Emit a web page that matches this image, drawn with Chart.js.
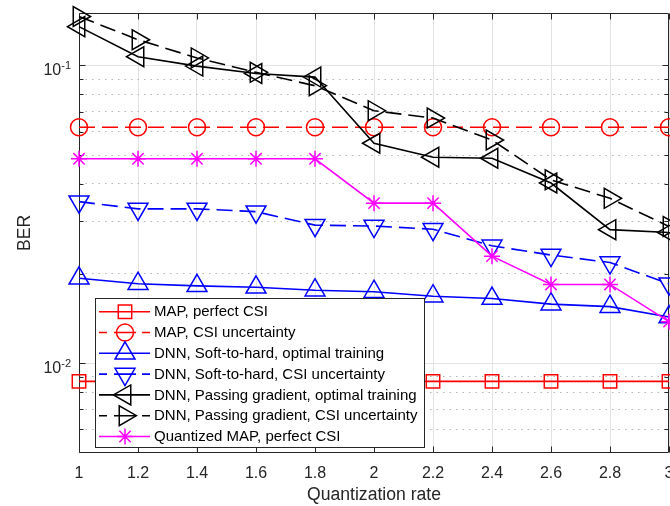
<!DOCTYPE html>
<html><head><meta charset="utf-8">
<script src="https://cdn.jsdelivr.net/npm/chart.js@4/dist/chart.umd.min.js"></script>
<style>html,body{margin:0;padding:0;background:#fff;}#wrap{width:670px;height:506px;position:relative;}</style>
</head><body><div id="wrap"><canvas id="c" width="670" height="506"></canvas></div>
<script>
// ---- data ----
const quantRates = [1, 1.2, 1.4, 1.6, 1.8, 2, 2.2, 2.4, 2.6, 2.8, 3];
const xTickLabels = ['1', '1.2', '1.4', '1.6', '1.8', '2', '2.2', '2.4', '2.6', '2.8', '3'];
const mapPerfectCSI = [0.0087, 0.0087, 0.0087, 0.0087, 0.0087, 0.0087, 0.0087, 0.0087, 0.0087, 0.0087, 0.0087];
const mapCSIUncertainty = [0.062, 0.062, 0.062, 0.062, 0.062, 0.062, 0.062, 0.062, 0.062, 0.062, 0.062];
const dnnSoftOptimal = [0.0193, 0.0185, 0.0182, 0.0180, 0.0176, 0.0174, 0.0168, 0.0165, 0.0158, 0.0155, 0.0143];
const dnnSoftCSIUnc = [0.0349, 0.0330, 0.0330, 0.0323, 0.0291, 0.0289, 0.0282, 0.0248, 0.0231, 0.0218, 0.0185];
const dnnPassOptimal = [0.135, 0.107, 0.0995, 0.094, 0.0914, 0.0548, 0.0492, 0.0488, 0.0403, 0.0281, 0.0275];
const dnnPassCSIUnc = [0.146, 0.122, 0.106, 0.0948, 0.0855, 0.0705, 0.0666, 0.0562, 0.0413, 0.0358, 0.0288];
const quantizedMAP = [0.0486, 0.0486, 0.0486, 0.0486, 0.0486, 0.0345, 0.0345, 0.0229, 0.0184, 0.0184, 0.0138];
const seriesNames = [
  'MAP, perfect CSI',
  'MAP, CSI uncertainty',
  'DNN, Soft-to-hard, optimal training',
  'DNN, Soft-to-hard, CSI uncertainty',
  'DNN, Passing gradient, optimal training',
  'DNN, Passing gradient, CSI uncertainty',
  'Quantized MAP, perfect CSI'
];
const yGridValues = [0.006, 0.007, 0.008, 0.009, 0.01, 0.02, 0.03, 0.04, 0.05, 0.06, 0.07, 0.08, 0.09, 0.1];
const yMajorValues = [0.01, 0.1];
const yMajorLabelBase = ['10', '10'];
const yMajorLabelExp = ['-2', '-1'];
const xTitle = 'Quantization rate';
const yTitle = 'BER';

// ---- styles ----
const FONT = '"Liberation Sans", Arial, Helvetica, sans-serif';
const TXT = '#262626';
const DASH = [16, 7];
const seriesData = [mapPerfectCSI, mapCSIUncertainty, dnnSoftOptimal, dnnSoftCSIUnc, dnnPassOptimal, dnnPassCSIUnc, quantizedMAP];
const seriesStyle = [
  {color: '#ff0000', dash: [], style: 'rect', radius: 9.5, rot: 0},
  {color: '#ff0000', dash: DASH, style: 'circle', radius: 8.5, rot: 0},
  {color: '#0000ff', dash: [], style: 'triangle', radius: 11.5, rot: 0},
  {color: '#0000ff', dash: DASH, style: 'triangle', radius: 11.5, rot: 180},
  {color: '#000000', dash: [], style: 'triangle', radius: 11.5, rot: -90},
  {color: '#000000', dash: DASH, style: 'triangle', radius: 11.5, rot: 90},
  {color: '#ff00ff', dash: [], style: 'star', radius: 8, rot: 0}
];
const isMajorY = v => yMajorValues.some(m => Math.abs(m - v) < 1e-12);

const datasets = seriesData.map((arr, i) => {
  const s = seriesStyle[i];
  return {
    label: seriesNames[i],
    data: arr.map((v, j) => ({x: quantRates[j], y: v})),
    borderColor: s.color,
    borderWidth: 1.6,
    borderDash: s.dash,
    pointStyle: s.style,
    pointRadius: s.radius,
    pointRotation: s.rot,
    pointBorderColor: s.color,
    pointBackgroundColor: 'rgba(0,0,0,0)',
    pointBorderWidth: 1.5,
    pointHoverRadius: s.radius,
    fill: false,
    tension: 0,
    clip: false,
    order: seriesData.length - 1 - i
  };
});

function drawMarker(ctx, s, x, y) {
  ctx.save();
  ctx.setLineDash([]);
  ctx.strokeStyle = s.color;
  ctx.fillStyle = 'rgba(0,0,0,0)';
  ctx.lineWidth = 1.5;
  Chart.helpers.drawPoint(ctx, {pointStyle: s.style, radius: s.radius, rotation: s.rot, borderWidth: 1.5}, x, y);
  ctx.restore();
}

const axesPlugin = {
  id: 'axesBox',
  beforeDatasetsDraw(chart) {
    const {ctx, chartArea: a, scales} = chart;
    const ys = scales.y, xs = scales.x;
    ctx.save();
    ctx.strokeStyle = TXT;
    ctx.lineWidth = 1;
    ctx.setLineDash([]);
    const L = Math.round(a.left) + 0.5, R = Math.round(a.right) - 0.5, T = Math.round(a.top) + 0.5, B = Math.round(a.bottom) - 0.5;
    ctx.beginPath();
    ctx.rect(L, T, R - L, B - T);
    ctx.stroke();
    // x ticks (bottom and top, inward)
    ctx.beginPath();
    quantRates.forEach(v => {
      const px = Math.round(xs.getPixelForValue(v)) + 0.5;
      ctx.moveTo(px, B); ctx.lineTo(px, B - 6);
      ctx.moveTo(px, T); ctx.lineTo(px, T + 6);
    });
    // y ticks (left and right)
    yGridValues.forEach(v => {
      const py = Math.round(ys.getPixelForValue(v)) + 0.5;
      const len = isMajorY(v) ? 6 : 4;
      ctx.moveTo(L, py); ctx.lineTo(L + len, py);
      ctx.moveTo(R, py); ctx.lineTo(R - len, py);
    });
    ctx.stroke();
    // y tick labels with superscript exponents
    ctx.fillStyle = TXT;
    ctx.textBaseline = 'alphabetic';
    yMajorValues.forEach((v, i) => {
      const py = ys.getPixelForValue(v);
      const right = a.left - 8;
      ctx.font = '11px ' + FONT;
      const ew = ctx.measureText(yMajorLabelExp[i]).width;
      ctx.textAlign = 'left';
      ctx.fillText(yMajorLabelExp[i], right - ew, py + 3.3);
      ctx.font = '16px ' + FONT;
      ctx.textAlign = 'right';
      ctx.fillText(yMajorLabelBase[i], right - ew, py + 9.5);
    });
    ctx.restore();
  },
  afterDraw(chart) {
    const {ctx} = chart;
    // legend box
    const bx = 95.5, by = 298.5, bw = 329, bh = 149;
    ctx.save();
    ctx.fillStyle = '#ffffff';
    ctx.strokeStyle = TXT;
    ctx.lineWidth = 1;
    ctx.fillRect(bx, by, bw, bh);
    ctx.strokeRect(bx, by, bw, bh);
    seriesNames.forEach((name, i) => {
      const s = seriesStyle[i];
      const cy = 311.7 + i * 20.8;
      ctx.save();
      ctx.strokeStyle = s.color;
      ctx.lineWidth = 1.6;
      if (s.dash.length) {
        ctx.beginPath();
        ctx.moveTo(99, cy); ctx.lineTo(107, cy);
        ctx.moveTo(114, cy); ctx.lineTo(136, cy);
        ctx.moveTo(142, cy); ctx.lineTo(150, cy);
        ctx.stroke();
      } else {
        ctx.beginPath(); ctx.moveTo(99, cy); ctx.lineTo(150, cy); ctx.stroke();
      }
      ctx.restore();
      drawMarker(ctx, s, 125, cy);
      ctx.fillStyle = '#000000';
      ctx.font = '15px ' + FONT;
      ctx.textAlign = 'left';
      ctx.textBaseline = 'middle';
      ctx.fillText(name, 154, cy + 0.5);
    });
    ctx.restore();
  }
};

new Chart(document.getElementById('c'), {
  type: 'line',
  data: {datasets},
  options: {
    responsive: false,
    devicePixelRatio: 1,
    animation: false,
    events: [],
    layout: {autoPadding: false, padding: {top: 13, right: 1, left: 0, bottom: 0}},
    plugins: {legend: {display: false}, tooltip: {enabled: false}},
    scales: {
      x: {
        type: 'linear', min: 1, max: 3,
        afterBuildTicks: s => { s.ticks = quantRates.map(v => ({value: v})); },
        afterFit: s => { s.height = 53; s.paddingLeft = 0; s.paddingRight = 0; },
        ticks: {
          callback: (v, i) => xTickLabels[i],
          font: {family: FONT, size: 16}, color: TXT, padding: 11,
          maxRotation: 0, autoSkip: false
        },
        grid: {color: '#e3e3e3', lineWidth: 1, drawTicks: false},
        border: {display: false},
        title: {display: true, text: xTitle, color: TXT, font: {family: FONT, size: 17.6}, padding: {top: 0, bottom: 0}}
      },
      y: {
        type: 'logarithmic', min: 0.005, max: 0.15,
        afterBuildTicks: s => { s.ticks = yGridValues.map(v => ({value: v, major: isMajorY(v)})); },
        afterFit: s => { s.width = 79; s.paddingTop = 0; s.paddingBottom = 0; },
        ticks: {display: false, autoSkip: false},
        grid: {
          color: c => (c.tick && isMajorY(c.tick.value)) ? '#e3e3e3' : '#b5b5b5',
          lineWidth: 1, drawTicks: false
        },
        border: {display: false, dash: c => (c.tick && !isMajorY(c.tick.value)) ? [1.5, 5] : []},
        title: {display: true, text: yTitle, color: TXT, font: {family: FONT, size: 17.6}, padding: {top: 15, bottom: 0}}
      }
    }
  },
  plugins: [axesPlugin]
});
</script>
</body></html>
